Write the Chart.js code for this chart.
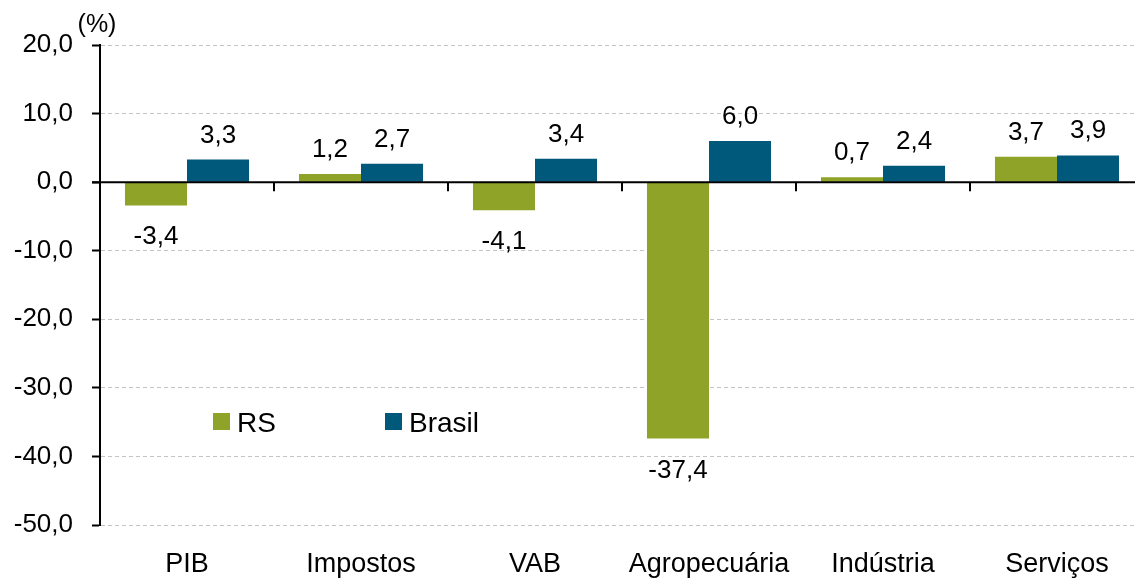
<!DOCTYPE html>
<html>
<head>
<meta charset="utf-8">
<script src="https://cdn.jsdelivr.net/npm/chart.js@4.4.1/dist/chart.umd.min.js"></script>
<style>
html,body{margin:0;padding:0;background:#fff;overflow:hidden;}
#wrap{position:relative;width:1150px;height:579px;}
</style>
</head>
<body>
<div id="wrap"><canvas id="c"></canvas></div>
<script>
const categories = ['PIB', 'Impostos', 'VAB', 'Agropecuária', 'Indústria', 'Serviços'];
const rsValues = [-3.4, 1.2, -4.1, -37.4, 0.7, 3.7];
const brasilValues = [3.3, 2.7, 3.4, 6.0, 2.4, 3.9];
const seriesNames = ['RS', 'Brasil'];
const yMin = -50, yMax = 20, yStep = 10;
const unitLabel = '(%)';

const GREEN = '#8fa329';
const BLUE = '#00587a';
const FONT = '"Liberation Sans", Arial, sans-serif';
const fmt = v => v.toFixed(1).replace('.', ',');

const overlay = {
  id: 'overlay',
  afterDatasetsDraw(chart) {
    const {ctx, chartArea, scales} = chart;
    const y0 = scales.y.getPixelForValue(0);
    ctx.save();
    ctx.strokeStyle = '#000';
    ctx.lineWidth = 2;
    ctx.setLineDash([]);
    ctx.beginPath();
    ctx.moveTo(chartArea.left - 8, y0);
    ctx.lineTo(chartArea.right, y0);
    ctx.stroke();
    const n = categories.length;
    for (let i = 1; i < n; i++) {
      const xa = scales.x.getPixelForValue(i - 1), xb = scales.x.getPixelForValue(i);
      const xm = Math.round((xa + xb) / 2);
      ctx.beginPath();
      ctx.moveTo(xm, y0);
      ctx.lineTo(xm, y0 + 9);
      ctx.stroke();
    }
    ctx.fillStyle = '#000';
    ctx.font = '26px ' + FONT;
    ctx.textAlign = 'center';
    ctx.textBaseline = 'alphabetic';
    chart.data.datasets.forEach((ds, di) => {
      const meta = chart.getDatasetMeta(di);
      meta.data.forEach((bar, i) => {
        const v = ds.data[i];
        const yb = scales.y.getPixelForValue(v);
        const ty = v >= 0 ? yb - 17 : yb + 39;
        ctx.fillText(fmt(v), bar.x, ty);
      });
    });
    ctx.font = '25px ' + FONT;
    ctx.fillText(unitLabel, chartArea.left - 3, 32);
    const ly = 422;
    const items = [
      {x: chartArea.left + 113, color: GREEN, text: seriesNames[0]},
      {x: chartArea.left + 285, color: BLUE, text: seriesNames[1]}
    ];
    ctx.font = '28px ' + FONT;
    ctx.textAlign = 'left';
    items.forEach(it => {
      ctx.fillStyle = it.color;
      ctx.fillRect(it.x, ly - 9, 17, 17);
      ctx.fillStyle = '#000';
      ctx.fillText(it.text, it.x + 24, ly + 10);
    });
    ctx.restore();
  }
};

new Chart(document.getElementById('c'), {
  type: 'bar',
  data: {
    labels: categories,
    datasets: [
      {label: seriesNames[0], data: rsValues, backgroundColor: GREEN,
       categoryPercentage: 0.713, barPercentage: 1.0, borderWidth: 0},
      {label: seriesNames[1], data: brasilValues, backgroundColor: BLUE,
       categoryPercentage: 0.713, barPercentage: 1.0, borderWidth: 0}
    ]
  },
  options: {
    responsive: true,
    maintainAspectRatio: false,
    animation: false,
    layout: {padding: {left: 0, right: 6, top: 45, bottom: 0}},
    plugins: {legend: {display: false}, tooltip: {enabled: false}},
    scales: {
      x: {
        grid: {display: false, drawTicks: false},
        border: {display: false},
        ticks: {color: '#000', font: {family: FONT, size: 27}, padding: 23, maxRotation: 0},
        afterFit: s => { s.height = 54; }
      },
      y: {
        min: yMin, max: yMax,
        ticks: {stepSize: yStep, color: '#000', font: {family: FONT, size: 26}, padding: 19,
                callback: v => fmt(v)},
        grid: {
          color: c => (c.tick && c.tick.value === 0) ? 'rgba(0,0,0,0)' : '#c4c4c4',
          lineWidth: 1,
          drawTicks: true,
          tickLength: 8,
          tickColor: '#000',
          tickWidth: 2,
          tickBorderDash: []
        },
        border: {display: true, color: '#000', width: 2, dash: [4, 3]},
        afterFit: s => { s.width = 100; }
      }
    }
  },
  plugins: [overlay]
});
</script>
</body>
</html>
